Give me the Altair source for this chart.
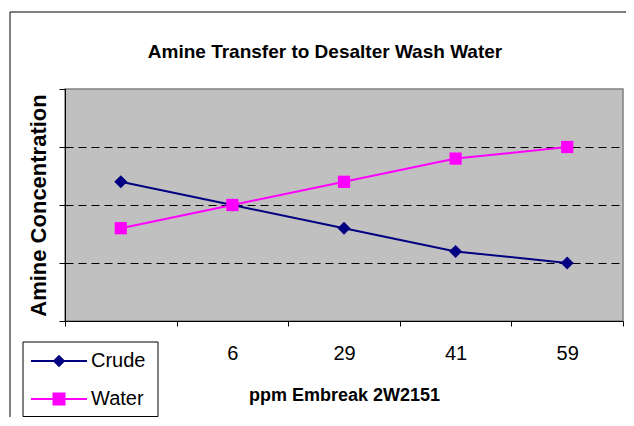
import altair as alt
import pandas as pd

categories = ["0", "6", "29", "41", "59"]
crude = [2.4, 2.0, 1.6, 1.2, 1.0]
water = [1.6, 2.0, 2.4, 2.8, 3.0]
series_names = ["Crude", "Water"]
series_colors = ["#000080", "#FF00FF"]
series_shapes = ["diamond", "square"]
legend_paths = [
    "M-5.6,-0.2L5.6,-0.2L5.6,0.2L-5.6,0.2ZM0,-1.25L1.25,0L0,1.25L-1.25,0Z",
    "M-5.6,-0.2L5.6,-0.2L5.6,0.2L-5.6,0.2ZM-1.3,-1.3L1.3,-1.3L1.3,1.3L-1.3,1.3Z",
]

rows = []
for name, vals in zip(series_names, [crude, water]):
    for c, v in zip(categories, vals):
        rows.append({"ppm": c, "series": name, "value": v})
df = pd.DataFrame(rows)

W, H = 558, 232
FONT = "Liberation Sans"

x_enc = alt.X(
    "ppm:O",
    sort=categories,
    scale=alt.Scale(type="band", paddingInner=0, paddingOuter=0),
    axis=alt.Axis(
        title="ppm  Embreak 2W2151",
        labelAngle=0,
        labelExpr="datum.label == '0' ? '' : datum.label",
        tickBand="extent",
        tickSize=5,
        tickColor="black",
        domainColor="black",
        labelFont=FONT,
        labelFontSize=20,
        labelColor="black",
        labelPadding=17,
        titleFont=FONT,
        titleFontSize=18,
        titleFontWeight="bold",
        titleColor="black",
        titlePadding=23,
        grid=False,
    ),
)
y_enc = alt.Y(
    "value:Q",
    scale=alt.Scale(domain=[0, 4], nice=False),
    axis=alt.Axis(
        title="Amine Concentration",
        values=[0, 1, 2, 3, 4],
        labels=False,
        tickSize=6,
        tickColor="black",
        domainColor="black",
        grid=True,
        gridColor="black",
        gridDash=[8, 5],
        gridOpacity=alt.condition("datum.value == 0 || datum.value == 4", alt.value(0), alt.value(1)),
        titleFont=FONT,
        titleFontSize=22,
        titleFontWeight="bold",
        titleColor="black",
        titlePadding=8,
    ),
)

color_scale = alt.Scale(domain=series_names, range=series_colors)

layers = []
for name, col in zip(series_names, series_colors):
    layers.append(
        alt.Chart(df[df["series"] == name]).mark_line(strokeWidth=2, color=col).encode(x=x_enc, y=y_enc)
    )
for name, col, shp, sz in zip(series_names, series_colors, series_shapes, [170, 150]):
    layers.append(
        alt.Chart(df[df["series"] == name]).mark_point(
            filled=True, size=sz, shape=shp, opacity=1, color=col
        ).encode(x=x_enc, y=y_enc)
    )

leg = alt.Legend(
    title=None,
    orient="none",
    legendX=-24,
    legendY=254,
    padding=8,
    symbolSize=100,
    symbolOpacity=1,
    labelFont=FONT,
    labelFontSize=20,
    labelColor="black",
    labelOffset=22,
    rowPadding=18,
)

legend_layer = alt.Chart(df[df["ppm"] == categories[0]]).mark_point(filled=True, opacity=0).encode(
    x=x_enc,
    y=y_enc,
    color=alt.Color("series:N", scale=color_scale, legend=leg),
    shape=alt.Shape("series:N", scale=alt.Scale(domain=series_names, range=legend_paths), legend=leg),
)

frame = alt.Chart(pd.DataFrame({"k": [0]})).mark_rect(
    fillOpacity=0, stroke="black", strokeWidth=1
).encode(
    x=alt.value(-55), x2=alt.value(W + 200), y=alt.value(-77), y2=alt.value(H + 300)
)

legend_box = alt.Chart(pd.DataFrame({"k": [0]})).mark_rect(
    fill="white", stroke="black", strokeWidth=1
).encode(
    x=alt.value(-42), x2=alt.value(93), y=alt.value(253), y2=alt.value(327.5)
)

chart = alt.layer(frame, *layers, legend_box, legend_layer).properties(
    width=W,
    height=H,
    autosize=alt.AutoSizeParams(type="none"),
    padding={"left": 57, "top": 81, "right": 3, "bottom": 96},
    title=alt.TitleParams(
        text="Amine Transfer to Desalter Wash Water",
        font=FONT,
        fontSize=19,
        fontWeight="bold",
        color="black",
        anchor="middle",
        frame="group",
        baseline="alphabetic",
        offset=-65,
        dx=-19,
    ),
).configure(
    background="white",
    view=alt.ViewConfig(fill="#C0C0C0", stroke="#808080", strokeWidth=1.5),
)

chart.save("out.html", embed_options={"renderer": "svg", "actions": False})
